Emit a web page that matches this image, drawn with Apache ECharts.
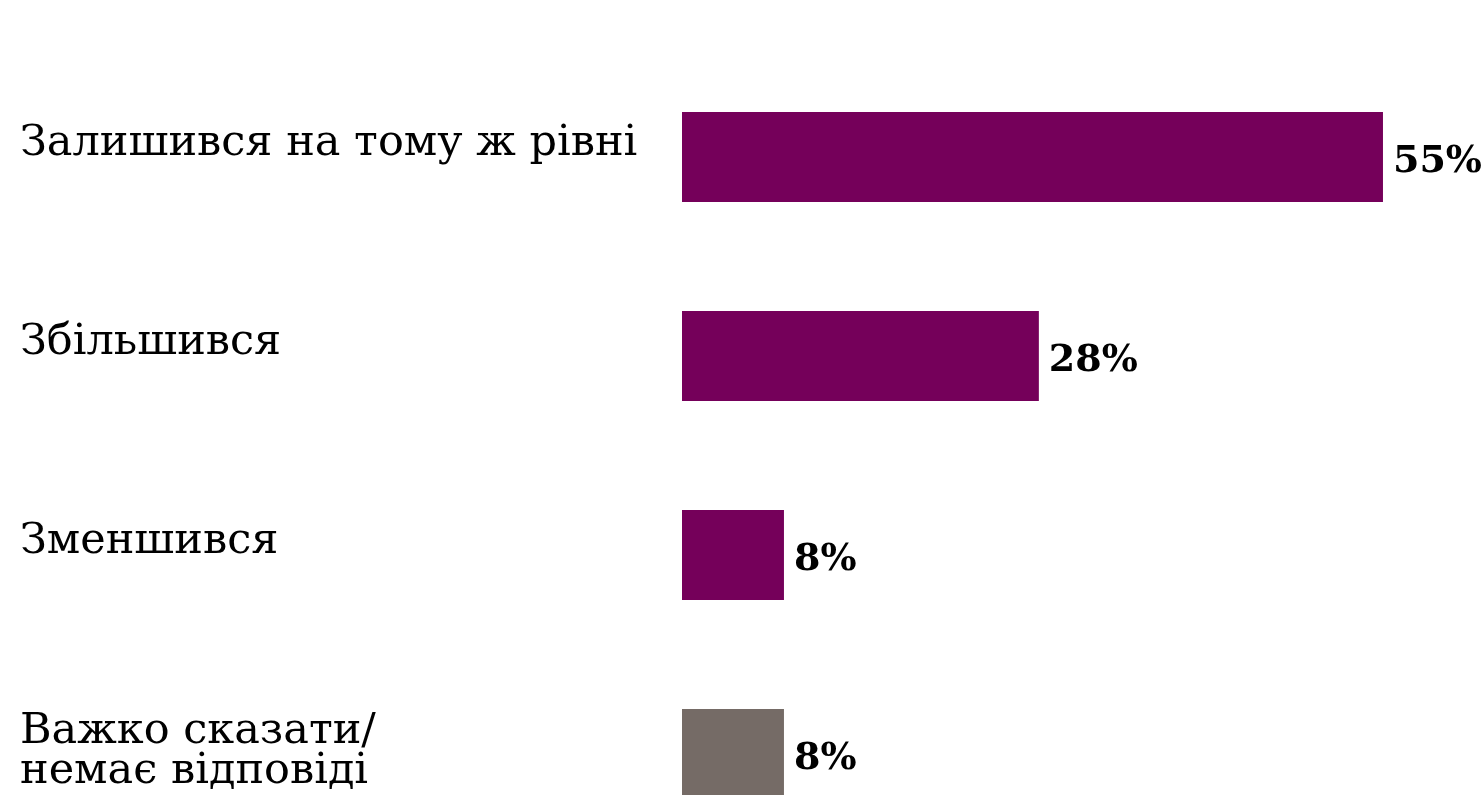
<!DOCTYPE html>
<html>
<head>
<meta charset="utf-8">
<script src="https://cdn.jsdelivr.net/npm/echarts@6/dist/echarts.min.js"></script>
<style>
html,body{margin:0;padding:0;background:#fff;}
#chart{width:1484px;height:795px;}
</style>
</head>
<body>
<div id="chart"></div>
<script>
const categories = ['Залишився на тому ж рівні', 'Збільшився', 'Зменшився', 'Важко сказати/\nнемає відповіді'];
const values = [55, 28, 8, 8];
const barColors = ['#75005A', '#75005A', '#75005A', '#756B66'];

const chart = echarts.init(document.getElementById('chart'), null, {renderer: 'canvas'});
const txt = {fontFamily: 'DejaVu Serif', fontSize: 43, color: '#000', lineHeight: 44};
chart.setOption({
  backgroundColor: '#ffffff',
  animation: false,
  grid: {left: 682, top: 57.5, height: 796, width: 764.7, outerBoundsMode: 'none', containLabel: false},
  xAxis: {type: 'value', min: 0, max: 60, show: false},
  yAxis: {
    type: 'category', inverse: true, data: categories,
    axisLine: {show: false}, axisTick: {show: false},
    axisLabel: Object.assign({
      margin: 662, align: 'left',
      formatter: function (v) {
        const lines = v.split('\n');
        if (lines.length === 1) return '{s|' + v + '}';
        return lines.map((l, i) => (i === lines.length - 1 ? '{n|' : '{m|') + l + '}').join('\n');
      },
      rich: {
        s: Object.assign({}, txt, {padding: [0, 0, 27, 0]}),
        m: Object.assign({}, txt),
        n: Object.assign({}, txt, {padding: [0, 0, 9, 0]})
      }
    }, txt)
  },
  series: [{
    type: 'bar', barWidth: 90,
    data: values.map((v, i) => ({value: v, itemStyle: {color: barColors[i]}})),
    label: {
      show: true, position: 'right', distance: 10, offset: [0, 5],
      formatter: '{c}%', fontFamily: 'DejaVu Serif', fontWeight: 'bold',
      fontSize: 38, color: '#000'
    }
  }]
});
</script>
</body>
</html>
